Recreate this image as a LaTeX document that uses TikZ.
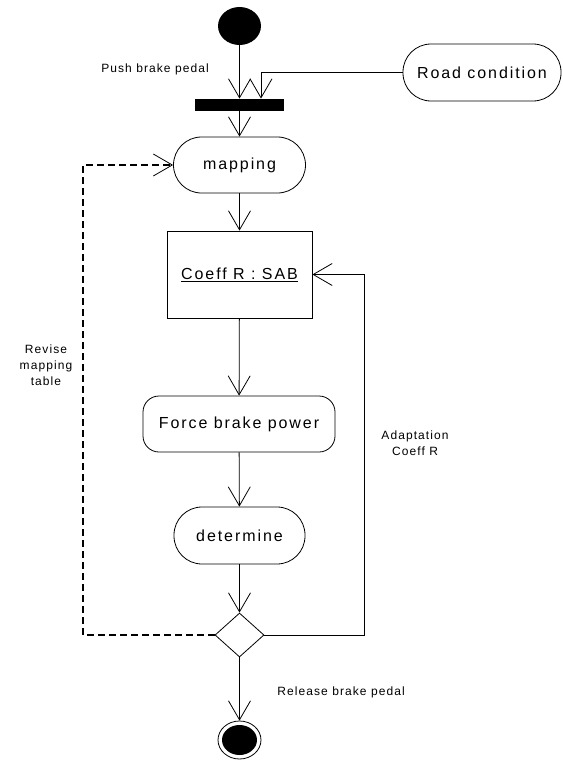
\documentclass[tikz,border=0pt]{standalone}
\usepackage{fontspec}
\setmainfont{Liberation Sans}
\newfontfamily\bigfont[LetterSpace=12]{Liberation Sans}
\newfontfamily\smallfont[LetterSpace=9]{Liberation Sans}
\usetikzlibrary{arrows.meta,shapes.geometric}

\begin{document}
\begin{tikzpicture}[x=1pt, y=-1pt, line width=0.8pt,
    activity/.style={draw, rounded corners=28pt, minimum height=57pt, inner sep=0pt, font=\bigfont\fontsize{16}{19}\selectfont},
    flow/.style={-{Straight Barb[length=19pt, width=22pt, line width=0.8pt]}},
    note/.style={inner sep=0pt, align=center, font=\smallfont\fontsize{12}{16}\selectfont}]
    \useasboundingbox (0,0) rectangle (562,760);
    % nodes of the activity
    \node[ellipse, fill, minimum width=43pt, minimum height=38pt, inner sep=0pt] (start) at (239.5,26) {};
    \node[fill, minimum width=89pt, minimum height=12pt, inner sep=0pt] (fork) at (239.5,105) {};
    \node[activity, minimum width=158pt] (road) at (482,72.5) {Road condition};
    \node[activity, minimum width=132pt, minimum height=56pt] (mapping) at (239.5,165) {mapping};
    \node[draw, minimum width=145pt, minimum height=87pt, font=\bigfont\fontsize{16}{19}\selectfont] (coeff) at (239.5,274.5) {\underline{Coeff R : SAB}};
    \node[activity, rounded corners=16pt, minimum width=192pt, minimum height=56pt] (force) at (239,424) {Force brake power};
    \node[activity, minimum width=131pt] (determine) at (239.5,535.5) {determine};
    \node[diamond, draw, minimum width=49pt, minimum height=44pt, inner sep=0pt] (decision) at (239.5,635) {};
    \node[ellipse, draw, minimum width=43pt, minimum height=38pt, inner sep=0pt] (final) at (239.5,740) {};
    \node[ellipse, fill, minimum width=35pt, minimum height=30pt, inner sep=0pt] (finaldot) at (final) {};
    \coordinate (revise) at (83,635);
    \coordinate (adapt) at (364,635);
    % transitions
    \draw[flow] (start) -- (fork);
    \draw[flow] (road.west) -| ([xshift=21.5pt]fork.north);
    \draw[flow] (fork) -- (mapping);
    \draw[flow] (mapping) -- (coeff);
    \draw[flow] (coeff) -- (force);
    \draw[flow] (force) -- (determine);
    \draw[flow] (determine) -- (decision);
    \draw[flow] (decision) -- (final);
    \draw[flow, line width=1.6pt, dash pattern=on 7pt off 4pt] (decision.west) -- (revise) |- (mapping.west);
    \draw[flow] (decision.east) -- (adapt) |- (coeff.east);
    % guard labels
    \node[note] (pushtext) at (155,69) {Push brake pedal};
    \node[note] (revisetext) at (46,365) {Revise\\mapping\\table};
    \node[note] (adapttext) at (415,443) {Adaptation\\Coeff R};
    \node[note, anchor=west] (releasetext) at (277,692) {Release brake pedal};
\end{tikzpicture}
\end{document}
